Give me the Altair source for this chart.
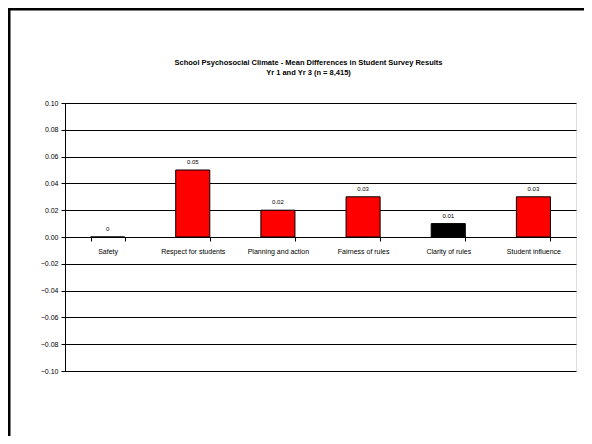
import altair as alt
import pandas as pd

categories = ["Safety", "Respect for students", "Planning and action",
              "Fairness of rules", "Clarity of rules", "Student influence"]
values = [0.0, 0.05, 0.02, 0.03, 0.01, 0.03]
value_labels = ["0", "0.05", "0.02", "0.03", "0.01", "0.03"]
bar_colors = ["#FF0000", "#FF0000", "#FF0000", "#FF0000", "#000000", "#FF0000"]
y_ticks = [-0.10, -0.08, -0.06, -0.04, -0.02, 0.0, 0.02, 0.04, 0.06, 0.08, 0.10]

df = pd.DataFrame({"cat": categories, "val": values, "lab": value_labels})

FONT = "Liberation Sans"
W, H = 511, 268
PL, PT = 57, 95

xs = alt.X("cat:N", sort=categories,
           scale=alt.Scale(paddingInner=0.6, paddingOuter=0.3),
           axis=alt.Axis(title=None, labelAngle=0, offset=-H / 2,
                         tickBand="extent", tickSize=4, tickColor="black",
                         domainColor="black", labelFont=FONT, labelFontSize=7,
                         labelColor="black", labelPadding=6, grid=False))
ys = alt.Y("val:Q", scale=alt.Scale(domain=[-0.1, 0.1], nice=False, zero=False),
           axis=alt.Axis(title=None, values=y_ticks, format=".2f", grid=True,
                         gridColor="black", gridWidth=1, tickSize=4,
                         tickColor="black", domainColor="black",
                         labelOverlap=False,
                         labelFont=FONT, labelFontSize=7, labelColor="black",
                         labelPadding=3))

bars = alt.Chart(df).mark_bar(stroke="black", strokeWidth=1).encode(
    x=xs, y=ys,
    color=alt.Color("cat:N", scale=alt.Scale(domain=categories, range=bar_colors),
                    legend=None),
)

texts = alt.Chart(df).mark_text(baseline="bottom", dy=-5, font=FONT,
                                fontSize=6, color="black").encode(
    x=xs, y=ys, text="lab:N")

frame_df = pd.DataFrame({"k": [0]})
left_line = alt.Chart(frame_df).mark_rule(color="black", strokeWidth=3).encode(
    x=alt.value(-PL + 1), y=alt.value(-PT), y2=alt.value(H + 70))
top_line = alt.Chart(frame_df).mark_rule(color="black", strokeWidth=3).encode(
    x=alt.value(-PL), x2=alt.value(W + 20), y=alt.value(-PT + 1))

chart = alt.layer(bars, texts, left_line, top_line).properties(
    width=W, height=H,
    autosize=alt.AutoSizeParams(type="none"),
    padding={"left": PL, "top": PT, "right": 8, "bottom": 65},
    title=alt.TitleParams(
        text="School Psychosocial Climate - Mean Differences in Student Survey Results",
        subtitle="Yr 1 and Yr 3  (n = 8,415)",
        font=FONT, fontSize=7.5, fontWeight="bold", color="black",
        subtitleFont=FONT, subtitleFontSize=7.5, subtitleFontWeight="bold",
        subtitleColor="black", subtitlePadding=3, anchor="middle", dx=-12,
        frame="group", offset=-70),
).configure_view(stroke="#808080", strokeWidth=1).configure(background="white")

chart.save("out.html", embed_options={"renderer": "svg", "actions": False})
